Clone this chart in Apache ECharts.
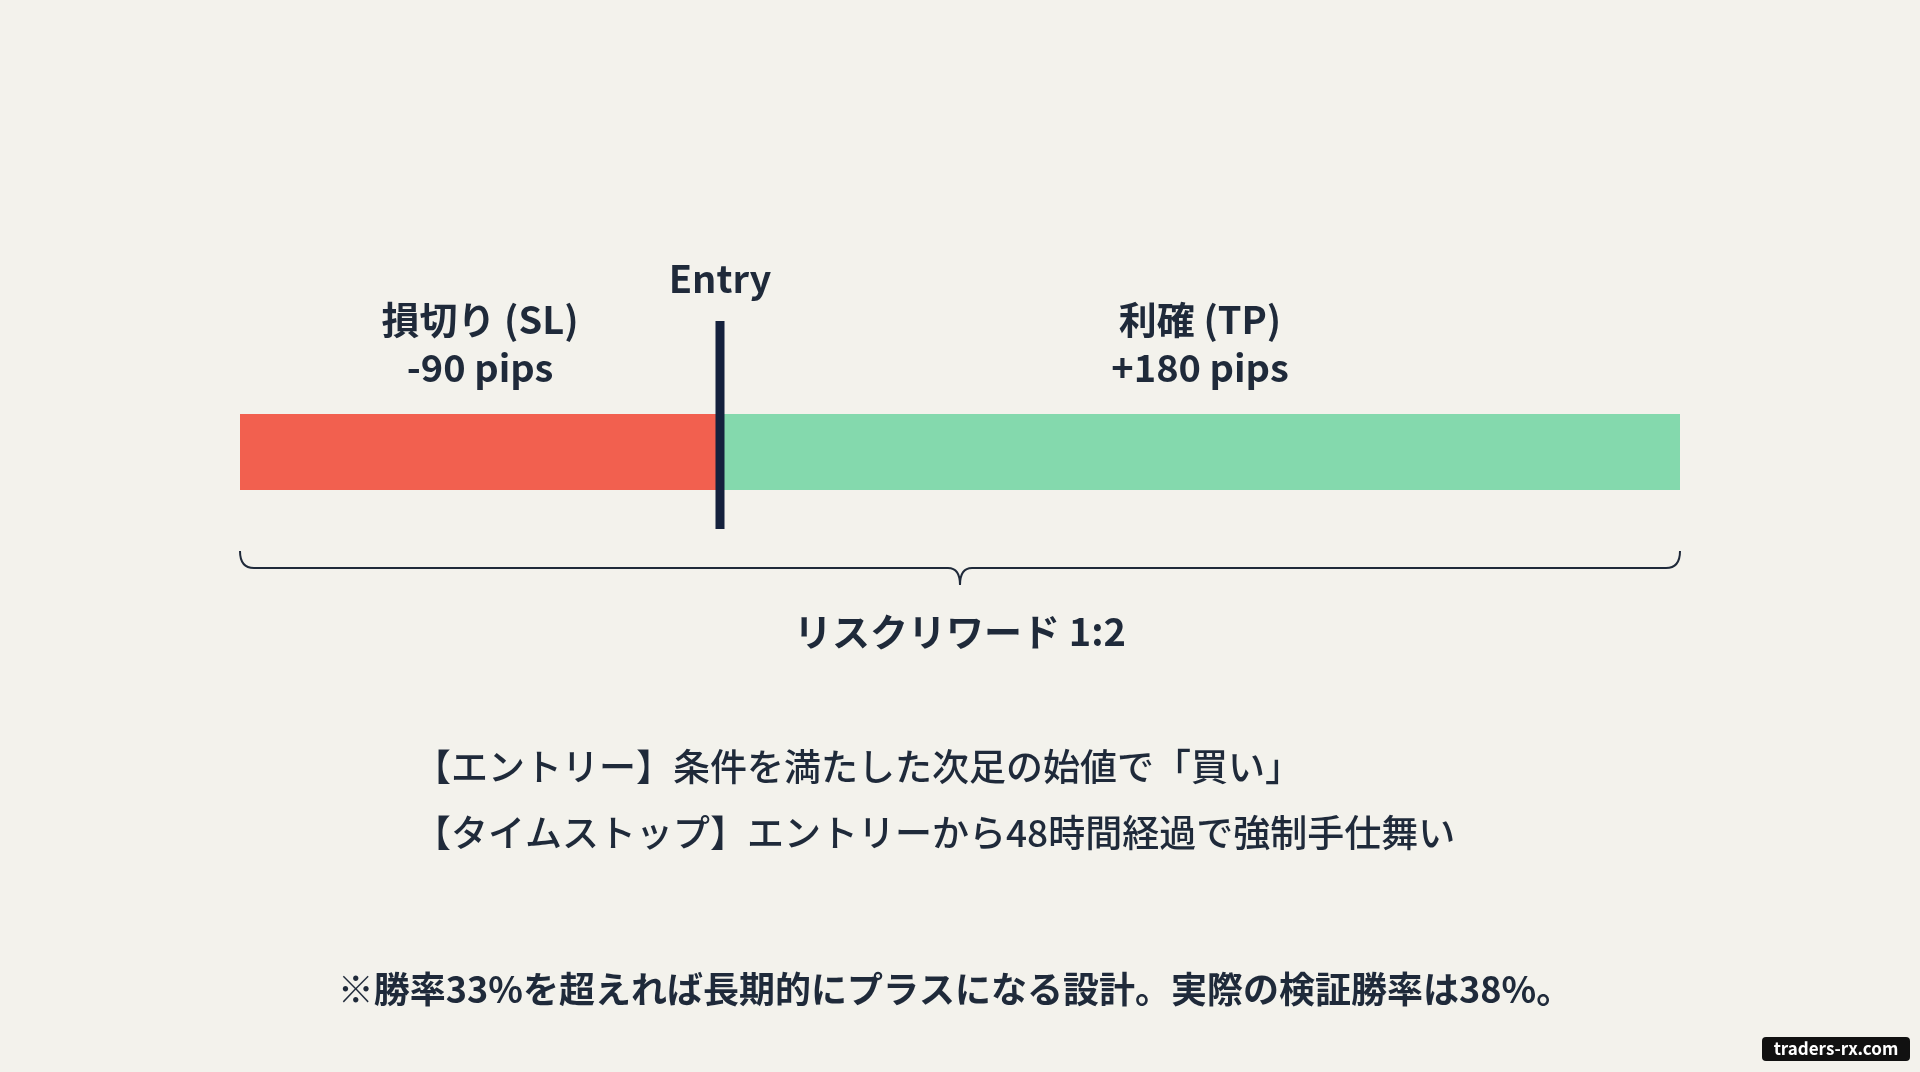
<!DOCTYPE html>
<html><head><meta charset="utf-8">
<script src="https://cdn.jsdelivr.net/npm/echarts@6/dist/echarts.min.js"></script>
<style>html,body{margin:0;background:#F3F2EC}#c{width:1920px;height:1072px}</style>
</head><body><div id="c"></div>
<script>
const categories = ['trade'];
const slValues = [-90];
const tpValues = [180];
const entryValue = [0];
const labels = {
  sl: '損切り (SL)\n-90 pips',
  tp: '利確 (TP)\n+180 pips',
  entry: 'Entry',
  rr: 'リスクリワード 1:2',
  line1: '【エントリー】条件を満たした次足の始値で「買い」',
  line2: '【タイムストップ】エントリーから48時間経過で強制手仕舞い',
  note: '※勝率33%を超えれば長期的にプラスになる設計。実際の検証勝率は38%。',
  mark: 'traders-rx.com'
};
const F = '"Noto Sans CJK JP","Noto Sans",sans-serif';
const chart = echarts.init(document.getElementById('c'));
chart.setOption({
  backgroundColor: '#F3F2EC',
  animation: false,
  grid: {left: 240, right: 240, top: 414, height: 76},
  xAxis: {type: 'value', min: -90, max: 180, show: false},
  yAxis: {type: 'category', data: categories, show: false},
  series: [
    {type: 'bar', stack: 'a', data: slValues, barCategoryGap: '0%', barWidth: 76,
     itemStyle: {color: '#F2604F'},
     label: {show: true, position: 'top', distance: 22, formatter: labels.sl, color: '#1F2A3A',
       fontFamily: F, fontWeight: 'bold', fontSize: 38, lineHeight: 48}},
    {type: 'bar', stack: 'a', data: tpValues, barWidth: 76,
     itemStyle: {color: '#84D9AD'},
     label: {show: true, position: 'top', distance: 22, formatter: labels.tp, color: '#1F2A3A',
       fontFamily: F, fontWeight: 'bold', fontSize: 38, lineHeight: 48}}
  ]
});
const [x0] = chart.convertToPixel({gridIndex: 0}, [-90, 0]);
const [xE] = chart.convertToPixel({gridIndex: 0}, [entryValue[0], 0]);
const [x1] = chart.convertToPixel({gridIndex: 0}, [180, 0]);
const xm = (x0 + x1) / 2;
const bs = {stroke: '#1F2A3A', lineWidth: 2, fill: null};
chart.setOption({
  graphic: [
    {type: 'line', shape: {x1: xE, y1: 321, x2: xE, y2: 529}, style: {stroke: '#14213D', lineWidth: 9}, z: 10},
    {type: 'text', x: xE, y: 279, style: {text: labels.entry, fill: '#1F2A3A', font: 'bold 38px ' + F, textAlign: 'center', textVerticalAlign: 'middle'}},
    {type: 'bezierCurve', shape: {x1: x0, y1: 551, cpx1: x0, cpy1: 568, x2: x0 + 14, y2: 568}, style: bs},
    {type: 'line', shape: {x1: x0 + 14, y1: 568, x2: xm - 12, y2: 568}, style: bs},
    {type: 'bezierCurve', shape: {x1: xm - 12, y1: 568, cpx1: xm, cpy1: 568, x2: xm, y2: 585}, style: bs},
    {type: 'bezierCurve', shape: {x1: xm, y1: 585, cpx1: xm, cpy1: 568, x2: xm + 12, y2: 568}, style: bs},
    {type: 'line', shape: {x1: xm + 12, y1: 568, x2: x1 - 14, y2: 568}, style: bs},
    {type: 'bezierCurve', shape: {x1: x1 - 14, y1: 568, cpx1: x1, cpy1: 568, x2: x1, y2: 551}, style: bs},
    {type: 'text', x: xm, y: 632, style: {text: labels.rr, fill: '#1F2A3A', font: 'bold 38px ' + F, textAlign: 'center', textVerticalAlign: 'middle'}},
    {type: 'text', x: 414, y: 767, style: {text: labels.line1, fill: '#1F2A3A', font: '500 37px ' + F, textVerticalAlign: 'middle'}},
    {type: 'text', x: 414, y: 833, style: {text: labels.line2, fill: '#1F2A3A', font: '500 37px ' + F, textVerticalAlign: 'middle'}},
    {type: 'text', x: 955, y: 989, style: {text: labels.note, fill: '#1F2A3A', font: 'bold 36px ' + F, textAlign: 'center', textVerticalAlign: 'middle'}},
    {type: 'rect', shape: {x: 1762, y: 1037, width: 148, height: 24, r: 4}, style: {fill: '#111'}},
    {type: 'text', x: 1836, y: 1049, style: {text: labels.mark, fill: '#fff', font: 'bold 17px ' + F, textAlign: 'center', textVerticalAlign: 'middle'}, z: 5}
  ]
});
</script></body></html>
